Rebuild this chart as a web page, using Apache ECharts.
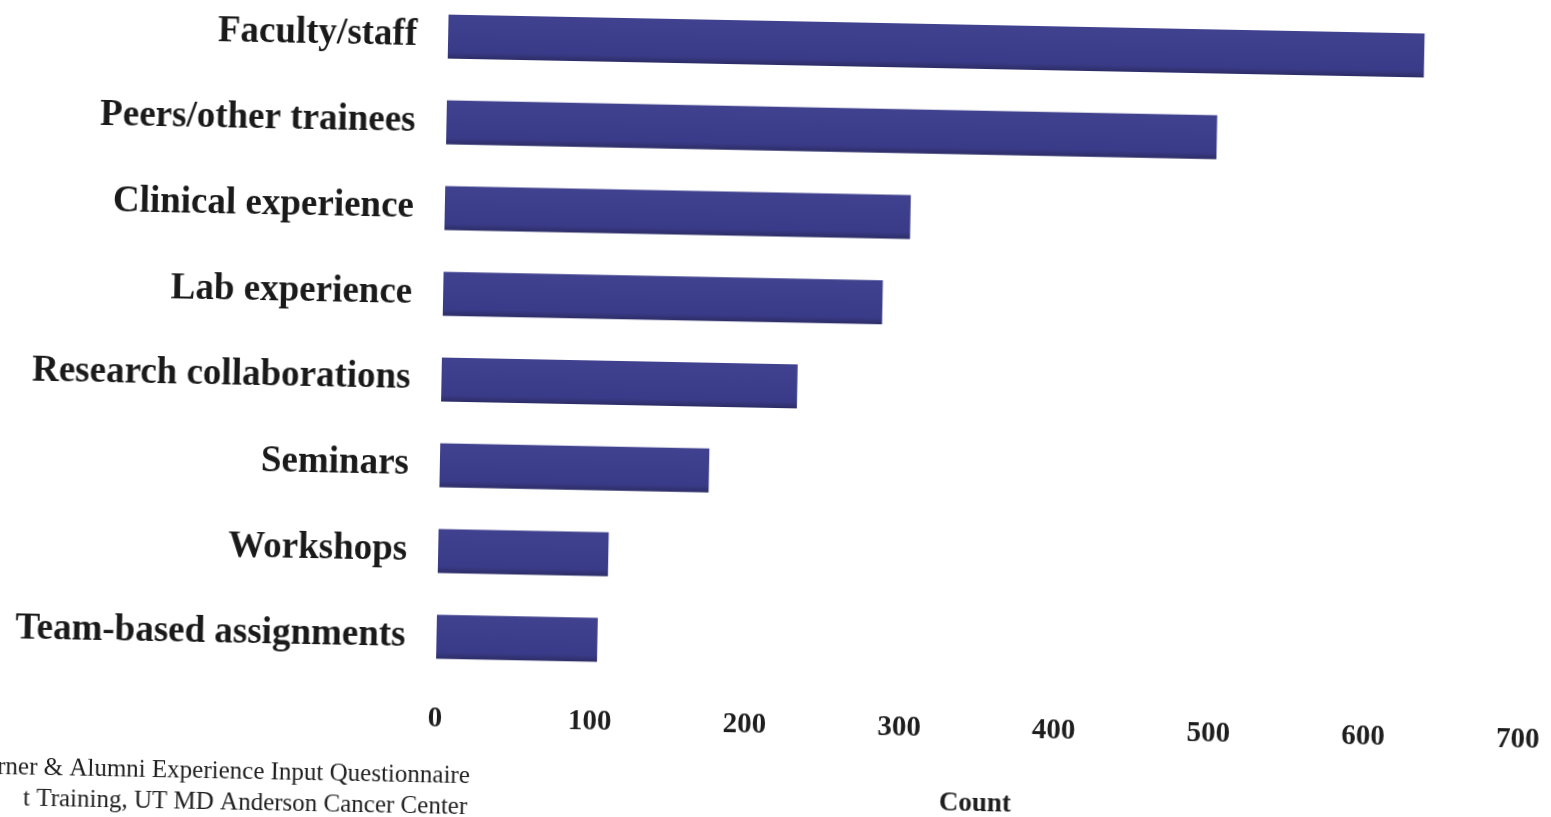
<!DOCTYPE html>
<html>
<head>
<meta charset="utf-8">
<script src="https://cdn.jsdelivr.net/npm/echarts@6/dist/echarts.min.js"></script>
<style>
html,body{margin:0;padding:0;background:#fff;overflow:hidden;width:1551px;height:817px;}
#chart{width:1551px;height:860px;transform:rotate(1.11deg);transform-origin:775.5px 408.5px;}
</style>
</head>
<body>
<div id="chart"></div>
<script>
const categories = ["Faculty/staff","Peers/other trainees","Clinical experience","Lab experience","Research collaborations","Seminars","Workshops","Team-based assignments"];
const counts = [631, 498, 301, 284, 230, 174, 110, 104];
const axisName = "Count";
const footnoteLines = ["rner & Alumni Experience Input Questionnaire", "t Training, UT MD Anderson Cancer Center"];

const chart = echarts.init(document.getElementById('chart'), null, {renderer:'canvas'});
const serif = '"Liberation Serif","Times New Roman",serif';
chart.setOption({
  backgroundColor: '#ffffff',
  animation: false,
  grid: {left: 441, width: 1083, top: -5, height: 691},
  xAxis: {
    type: 'value', min: 0, max: 700, interval: 100,
    axisLine: {show: false}, axisTick: {show: false}, splitLine: {show: false},
    axisLabel: {fontFamily: serif, fontWeight: 'bold', fontSize: 29, color: '#1e1e1e', margin: 25},
    name: axisName, nameLocation: 'middle', nameGap: 101,
    nameTextStyle: {fontFamily: serif, fontWeight: 'bold', fontSize: 27, color: '#1e1e1e'}
  },
  yAxis: {
    type: 'category', data: categories, inverse: true,
    axisLine: {show: false}, axisTick: {show: false}, splitLine: {show: false},
    axisLabel: {fontFamily: serif, fontWeight: 'bold', fontSize: 37, color: '#1a1a1a', margin: 31}
  },
  series: [{
    type: 'bar', data: counts, barWidth: 44,
    itemStyle: {
      color: new echarts.graphic.LinearGradient(0,0,0,1,[
        {offset:0, color:'#41428f'},
        {offset:0.85, color:'#3a3b88'},
        {offset:1, color:'#2c2d66'}
      ])
    }
  }],
  graphic: [
    {type:'text', right: 1551-477, top: 770, style:{text: footnoteLines[0], font: '25px ' + serif, fill:'#1e1e1e', textAlign:'right'}},
    {type:'text', right: 1551-475, top: 801, style:{text: footnoteLines[1], font: '25px ' + serif, fill:'#1e1e1e', textAlign:'right'}}
  ]
});
</script>
</body>
</html>
